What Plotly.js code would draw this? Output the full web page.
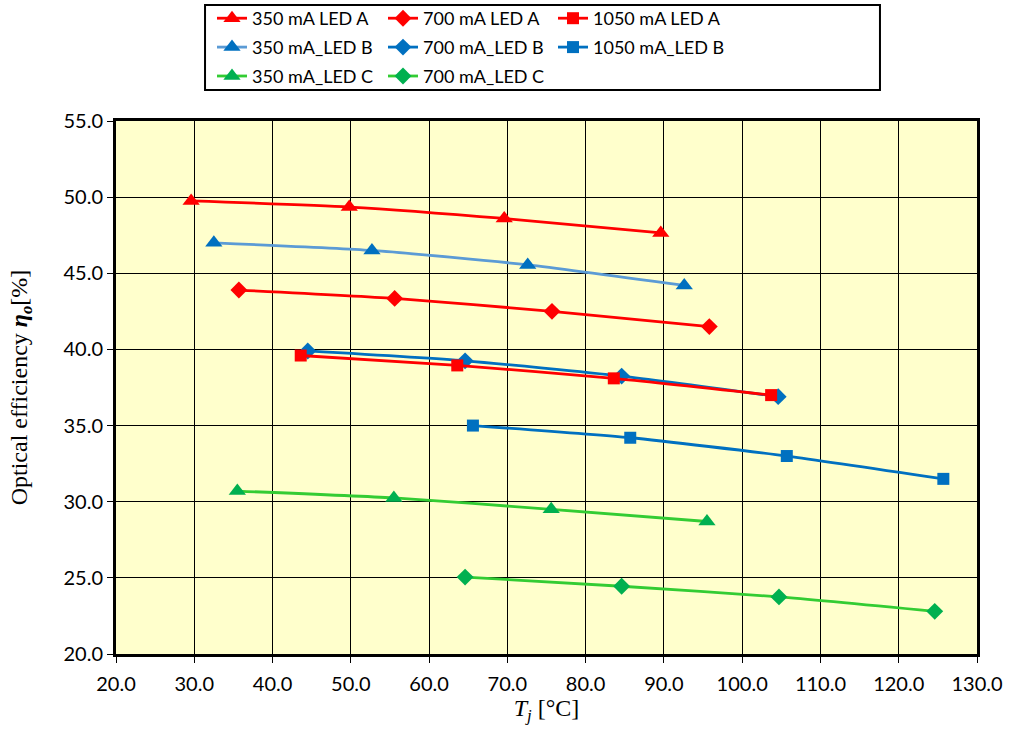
<!DOCTYPE html>
<html>
<head>
<meta charset="utf-8">
<script src="https://cdn.plot.ly/plotly-3.0.1.min.js"></script>
<style>
  html, body { margin: 0; padding: 0; background: white; }
  #plot { width: 1014px; height: 731px; }
</style>
</head>
<body>
<div id="plot"></div>
<script>
// Junction temperature (x) and optical efficiency (y) per series
const tA350 = [29.6, 49.8, 69.6, 89.6];
const eA350 = [49.75, 49.35, 48.6, 47.65];
const tA700 = [35.7, 55.6, 75.7, 95.8];
const eA700 = [43.9, 43.35, 42.5, 41.5];
const tA1050 = [43.6, 63.6, 83.6, 103.7];
const eA1050 = [39.6, 38.95, 38.1, 37.0];

const tB350 = [32.5, 52.7, 72.6, 92.6];
const eB350 = [47.0, 46.5, 45.55, 44.2];
const tB700 = [44.5, 64.6, 84.6, 104.6];
const eB700 = [39.9, 39.25, 38.25, 36.9];
const tB1050 = [65.6, 85.7, 105.7, 125.7];
const eB1050 = [35.0, 34.2, 33.0, 31.5];

const tC350 = [35.5, 55.5, 75.6, 95.5];
const eC350 = [30.7, 30.25, 29.5, 28.7];
const tC700 = [64.6, 84.6, 104.7, 124.6];
const eC700 = [25.05, 24.45, 23.75, 22.8];

const seriesNames = [
    '350 mA LED A', '700 mA LED A', '1050 mA LED A',
    '350 mA_LED B', '700 mA_LED B', '1050 mA_LED B',
    '350 mA_LED C', '700 mA_LED C'
];

// Build a smoothed line + marker trace; legendId picks the legend column
function makeTrace(x, y, name, lineColor, markerColor, symbol, size, legendId) {
    return {
        x: x,
        y: y,
        type: 'scatter',
        mode: 'lines+markers',
        name: name,
        legend: legendId,
        legendgroup: name,
        line: { color: lineColor, width: 2.8, shape: 'spline', smoothing: 0.6 },
        marker: { color: markerColor, size: size, symbol: symbol }
    };
}

const red = '#FF0000';
const blue = '#0070C0';
const steel = '#5B9BD5';
const green = '#33CC33';
const darkGreen = '#00B050';

const data = [
    makeTrace(tA350, eA350, seriesNames[0], red, red, 'triangle-up', 15, 'legend'),
    makeTrace(tB350, eB350, seriesNames[3], steel, blue, 'triangle-up', 15, 'legend'),
    makeTrace(tC350, eC350, seriesNames[6], green, darkGreen, 'triangle-up', 15, 'legend'),
    makeTrace(tA700, eA700, seriesNames[1], red, red, 'diamond', 13, 'legend2'),
    makeTrace(tB700, eB700, seriesNames[4], blue, blue, 'diamond', 13, 'legend2'),
    makeTrace(tC700, eC700, seriesNames[7], green, darkGreen, 'diamond', 13, 'legend2'),
    makeTrace(tA1050, eA1050, seriesNames[2], red, red, 'square', 12, 'legend3'),
    makeTrace(tB1050, eB1050, seriesNames[5], blue, blue, 'square', 12, 'legend3')
];

const tickFont = { family: 'Lato, "Open Sans", sans-serif', size: 20, color: '#000' };
const titleFont = { family: '"Liberation Serif", "DejaVu Serif", serif', size: 24, color: '#000' };
const legendFont = { family: 'Lato, "Open Sans", sans-serif', size: 18, color: '#000' };

// one legend per column: x in plot fraction, y at top of the figure
function legendAt(xPx) {
    return {
        orientation: 'v',
        xref: 'paper',
        yref: 'container',
        x: (xPx - 116) / 861,
        xanchor: 'left',
        y: 1,
        yanchor: 'top',
        bgcolor: 'rgba(0,0,0,0)',
        borderwidth: 0,
        font: legendFont,
        tracegroupgap: 2.5
    };
}

const layout = {
    width: 1014,
    height: 731,
    margin: { l: 116, r: 37, t: 121, b: 77 },
    paper_bgcolor: 'white',
    plot_bgcolor: '#FFFFCC',
    showlegend: true,
    legend: legendAt(212),
    legend2: legendAt(383),
    legend3: legendAt(553),
    shapes: [{
        type: 'rect',
        xref: 'paper', yref: 'paper',
        x0: 0.1034, x1: 0.8873, y0: 1.0582, y1: 1.2176,
        line: { color: '#000', width: 2 },
        fillcolor: 'rgba(0,0,0,0)',
        layer: 'above'
    }],
    xaxis: {
        range: [20, 130],
        dtick: 10,
        tick0: 20,
        tickformat: '.1f',
        showgrid: true,
        gridcolor: '#000',
        gridwidth: 1,
        zeroline: false,
        showline: true,
        mirror: true,
        linecolor: '#000',
        linewidth: 3,
        ticks: 'outside',
        ticklen: 6,
        tickcolor: '#000',
        tickfont: tickFont,
        ticklabelstandoff: 4,
        title: { text: '<i>T<sub>j</sub></i> [°C]', font: titleFont, standoff: 6 }
    },
    yaxis: {
        range: [20, 55],
        dtick: 5,
        tick0: 20,
        tickformat: '.1f',
        showgrid: true,
        gridcolor: '#000',
        gridwidth: 1,
        zeroline: false,
        showline: true,
        mirror: true,
        linecolor: '#000',
        linewidth: 3,
        ticks: 'outside',
        ticklen: 6,
        tickcolor: '#000',
        tickfont: tickFont,
        title: { text: 'Optical efficiency <b><i>η<sub>o</sub></i></b>[%]', font: titleFont, standoff: 30 }
    }
};

Plotly.newPlot('plot', data, layout, { displayModeBar: false, staticPlot: true });
</script>
</body>
</html>
